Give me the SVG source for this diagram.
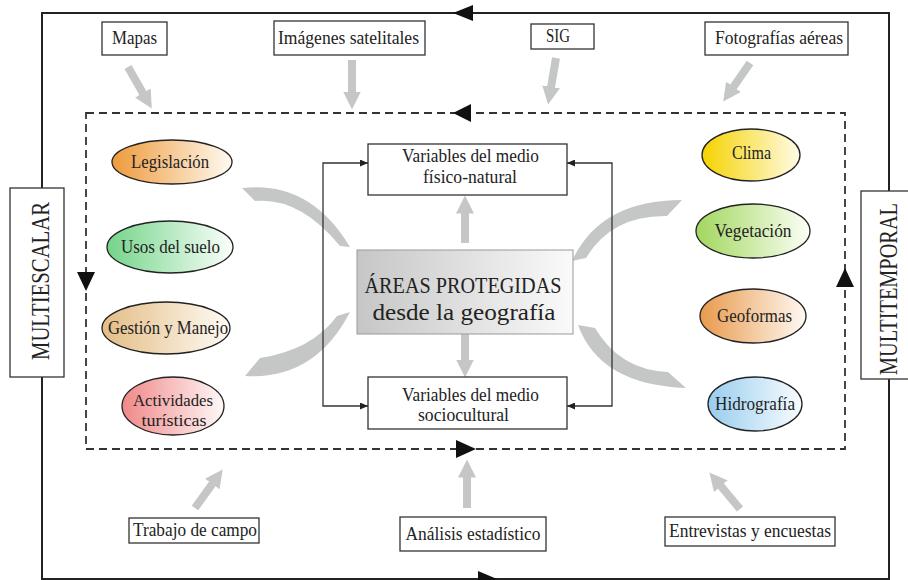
<svg xmlns="http://www.w3.org/2000/svg" width="908" height="580" viewBox="0 0 908 580">
<style>
text{font-family:"Liberation Serif","Times New Roman",serif;fill:#222;font-size:18.5px;text-anchor:middle}
.box{fill:#fff;stroke:#333;stroke-width:1.3}
.ell{stroke:#222;stroke-width:1.3}
.frame{fill:none;stroke:#222;stroke-width:2}
.dash{fill:none;stroke:#333;stroke-width:1.8;stroke-dasharray:8 5}
.ah{fill:#111}
.garrow{stroke:#c5c7c7;stroke-width:8;fill:none;marker-end:url(#gh)}
.arc{fill:#c5c7c7}
.br{fill:none;stroke:#333;stroke-width:1.3;marker-end:url(#sa)}
.big{font-size:24px}
.vert{font-size:25px}
.sm{font-size:17px}
</style>
<defs>
<marker id="gh" markerUnits="userSpaceOnUse" markerWidth="18" markerHeight="18" viewBox="0 0 18 18" refX="0.5" refY="9" orient="auto"><path d="M0,0 L18,9 L0,18 Z" fill="#c5c7c7"/></marker>
<marker id="sa" markerUnits="userSpaceOnUse" markerWidth="8" markerHeight="7" viewBox="0 0 8 7" refX="8" refY="3.5" orient="auto"><path d="M0,0 L8,3.5 L0,7 Z" fill="#222"/></marker>
<linearGradient id="gLeg"><stop offset="0" stop-color="#ee9a3a"/><stop offset="1" stop-color="#fffaf2"/></linearGradient>
<linearGradient id="gUso"><stop offset="0" stop-color="#74d48a"/><stop offset="1" stop-color="#fbfffb"/></linearGradient>
<linearGradient id="gGes"><stop offset="0" stop-color="#e3bd85"/><stop offset="1" stop-color="#fffbf5"/></linearGradient>
<linearGradient id="gAct"><stop offset="0" stop-color="#f08888"/><stop offset="1" stop-color="#fff8f8"/></linearGradient>
<linearGradient id="gCli"><stop offset="0" stop-color="#f5d300"/><stop offset="1" stop-color="#fffbe6"/></linearGradient>
<linearGradient id="gVeg"><stop offset="0" stop-color="#a2d75e"/><stop offset="1" stop-color="#fbfff6"/></linearGradient>
<linearGradient id="gGeo"><stop offset="0" stop-color="#e89a4c"/><stop offset="1" stop-color="#fff9f3"/></linearGradient>
<linearGradient id="gHid"><stop offset="0" stop-color="#98cdee"/><stop offset="1" stop-color="#f8fcff"/></linearGradient>
<linearGradient id="gCen"><stop offset="0" stop-color="#c6c6c6"/><stop offset="1" stop-color="#fafafa"/></linearGradient>
</defs>
<rect width="908" height="580" fill="#fff"/>

<g id="connectors">
  <rect class="frame" x="42" y="13" width="847" height="566"/>
  <rect class="dash" x="86" y="113" width="759" height="336"/>
  <path class="ah" d="M453,13 L473,5 L473,21 Z"/>
  <path class="ah" d="M453,113 L471,104 L471,122 Z"/>
  <path class="ah" d="M86,291 L77,272 L95,272 Z"/>
  <path class="ah" d="M845,268 L836,287 L854,287 Z"/>
  <path class="ah" d="M476,449 L456,440 L456,458 Z"/>
  <path class="ah" d="M497,579 L478,571 L478,587 Z"/>

  <line class="garrow" x1="128" y1="67" x2="143.1" y2="93.4"/>
  <line class="garrow" x1="352" y1="60" x2="352" y2="92"/>
  <line class="garrow" x1="556" y1="58" x2="551" y2="87.3"/>
  <line class="garrow" x1="750" y1="63" x2="733.2" y2="87.2"/>
  <line class="garrow" x1="195" y1="508" x2="212.5" y2="483.6"/>
  <line class="garrow" x1="467" y1="508" x2="467" y2="477"/>
  <line class="garrow" x1="740" y1="509" x2="720.6" y2="485.8"/>
  <line class="garrow" x1="465" y1="243" x2="465" y2="213"/>
  <line class="garrow" x1="465" y1="330" x2="465" y2="360"/>

  <path class="arc" d="M242,188 Q310,180 350,247 L340,246 Q300,197 255,201 Z"/>
  <path class="arc" d="M350,312 Q315,380 245,376 L260,358 Q312,350 337,316 Z"/>
  <path class="arc" d="M572,261 Q600,200 682,200 L667,216 Q612,215 586,258 Z"/>
  <path class="arc" d="M578,325 Q600,385 686,388 L668,372 Q620,370 595,328 Z"/>

  <path class="br" d="M323,285 V163 H368"/>
  <path class="br" d="M323,285 V406 H368"/>
  <path class="br" d="M612,285 V163 H567"/>
  <path class="br" d="M612,285 V406 H567"/>
</g>

<g id="multiescalar">
  <rect class="box" x="10" y="188" width="54" height="189" stroke-width="1.6"/>
  <text class="vert" transform="translate(49,281) rotate(-90)" textLength="158" lengthAdjust="spacingAndGlyphs">MULTIESCALAR</text>
</g>
<g id="multitemporal">
  <rect class="box" x="861" y="191" width="60" height="188" stroke-width="1.6"/>
  <text class="vert" transform="translate(897,289) rotate(-90)" textLength="172" lengthAdjust="spacingAndGlyphs">MULTITEMPORAL</text>
</g>

<g id="mapas"><rect class="box" x="102" y="22" width="65" height="33"/><text x="134.5" y="44" textLength="45" lengthAdjust="spacingAndGlyphs">Mapas</text></g>
<g id="imagenes"><rect class="box" x="274" y="21" width="151" height="34"/><text x="348.5" y="44" textLength="141" lengthAdjust="spacingAndGlyphs">Imágenes satelitales</text></g>
<g id="sig"><rect class="box" x="531" y="24" width="63" height="25"/><text x="558" y="42" textLength="24" lengthAdjust="spacingAndGlyphs">SIG</text></g>
<g id="fotografias"><rect class="box" x="705" y="22" width="143" height="33"/><text x="779" y="44" textLength="128" lengthAdjust="spacingAndGlyphs">Fotografías aéreas</text></g>

<g id="trabajo"><rect class="box" x="129" y="518" width="130" height="25"/><text x="195" y="536" textLength="124" lengthAdjust="spacingAndGlyphs">Trabajo de campo</text></g>
<g id="analisis"><rect class="box" x="400" y="517" width="146" height="34"/><text x="473" y="540" textLength="135" lengthAdjust="spacingAndGlyphs">Análisis estadístico</text></g>
<g id="entrevistas"><rect class="box" x="665" y="517" width="170" height="29"/><text x="750" y="537" textLength="162" lengthAdjust="spacingAndGlyphs">Entrevistas y encuestas</text></g>

<g id="legislacion"><ellipse class="ell" cx="172" cy="162" rx="60" ry="22" fill="url(#gLeg)"/><text x="170" y="168" textLength="78" lengthAdjust="spacingAndGlyphs">Legislación</text></g>
<g id="usos"><ellipse class="ell" cx="170" cy="247" rx="63" ry="26" fill="url(#gUso)"/><text x="170.5" y="253" textLength="99" lengthAdjust="spacingAndGlyphs">Usos del suelo</text></g>
<g id="gestion"><ellipse class="ell" cx="166" cy="328" rx="64" ry="26" fill="url(#gGes)"/><text x="168" y="334" textLength="120" lengthAdjust="spacingAndGlyphs">Gestión y Manejo</text></g>
<g id="actividades"><ellipse class="ell" cx="173" cy="406" rx="51" ry="29" fill="url(#gAct)"/><text class="sm" x="173" y="406" textLength="80" lengthAdjust="spacingAndGlyphs">Actividades</text><text class="sm" x="174" y="426" textLength="65" lengthAdjust="spacingAndGlyphs">turísticas</text></g>

<g id="clima"><ellipse class="ell" cx="751" cy="155" rx="49" ry="26" fill="url(#gCli)"/><text x="751.5" y="159" textLength="39" lengthAdjust="spacingAndGlyphs">Clima</text></g>
<g id="vegetacion"><ellipse class="ell" cx="753" cy="231" rx="57" ry="27" fill="url(#gVeg)"/><text x="753" y="237" textLength="77" lengthAdjust="spacingAndGlyphs">Vegetación</text></g>
<g id="geoformas"><ellipse class="ell" cx="753" cy="316" rx="53" ry="27" fill="url(#gGeo)"/><text x="754.5" y="322" textLength="75" lengthAdjust="spacingAndGlyphs">Geoformas</text></g>
<g id="hidrografia"><ellipse class="ell" cx="755" cy="404" rx="47" ry="27" fill="url(#gHid)"/><text x="755" y="410" textLength="80" lengthAdjust="spacingAndGlyphs">Hidrografía</text></g>

<g id="fisico"><rect class="box" x="368" y="144" width="199" height="51"/><text x="470.5" y="162" textLength="137" lengthAdjust="spacingAndGlyphs">Variables del medio</text><text x="470" y="183" textLength="94" lengthAdjust="spacingAndGlyphs">físico-natural</text></g>
<g id="socio"><rect class="box" x="368" y="377" width="199" height="52"/><text x="470.5" y="401" textLength="137" lengthAdjust="spacingAndGlyphs">Variables del medio</text><text x="463.5" y="421" textLength="91" lengthAdjust="spacingAndGlyphs">sociocultural</text></g>
<g id="central"><rect x="357" y="250" width="216" height="84" fill="url(#gCen)" stroke="#999" stroke-width="1"/><text class="big" x="463" y="293" textLength="197" lengthAdjust="spacingAndGlyphs">ÁREAS PROTEGIDAS</text><text class="big" x="464" y="320" textLength="183" lengthAdjust="spacingAndGlyphs">desde la geografía</text></g>
</svg>
